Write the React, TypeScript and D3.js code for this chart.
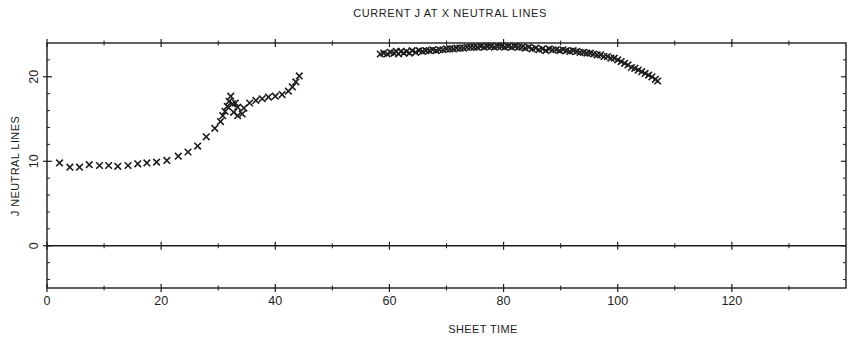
import React from "react";
import * as d3 from "d3";

const xMajorTicks = [0, 20, 40, 60, 80, 100, 120];
const xTickLabels = ["0", "20", "40", "60", "80", "100", "120"];
const xMinorTicks = [10, 30, 50, 70, 90, 110, 130];
const yMajorTicks = [0, 10, 20];
const yTickLabels = ["0", "10", "20"];
const yMinorTicks = [-4, -2, 2, 4, 6, 8, 12, 14, 16, 18, 22];

// Early neutral-line series (sheet time, current J)
const series1X = [2.2, 4.0, 5.7, 7.4, 9.2, 10.8, 12.4, 14.2, 15.9, 17.5, 19.2, 21.0, 23.0, 24.7, 26.4, 27.9, 29.4, 30.4, 30.8, 31.2, 31.6, 31.9, 32.2, 32.5, 33.0, 33.4, 32.7, 33.4, 34.2, 34.5, 35.5, 36.6, 37.7, 38.8, 40.0, 41.2, 42.3, 43.0, 43.6, 44.2];
const series1Y = [9.8, 9.3, 9.3, 9.6, 9.5, 9.5, 9.4, 9.5, 9.7, 9.8, 9.9, 10.1, 10.6, 11.1, 11.8, 12.9, 13.9, 14.7, 15.4, 15.9, 16.5, 17.1, 17.7, 16.8, 16.9, 16.4, 15.8, 15.4, 15.6, 16.3, 16.9, 17.2, 17.4, 17.6, 17.7, 17.9, 18.3, 18.8, 19.4, 20.1];

// Late neutral-line series
const series2X = [58.4, 59.0, 59.6, 60.2, 60.8, 61.2, 61.6, 62.0, 62.5, 63.0, 63.5, 64.0, 64.6, 65.2, 65.8, 66.4, 67.0, 67.6, 68.2, 68.8, 69.4, 70.0, 70.6, 71.2, 71.8, 72.4, 73.0, 73.6, 74.2, 74.8, 75.4, 76.0, 76.6, 77.2, 77.8, 78.4, 79.0, 79.6, 80.2, 80.8, 81.4, 82.0, 82.6, 83.2, 83.8, 84.4, 85.0, 85.6, 86.2, 86.8, 87.4, 88.0, 88.6, 89.2, 89.8, 90.4, 91.0, 91.6, 92.2, 92.8, 93.4, 94.0, 94.6, 95.2, 95.8, 96.4, 97.0, 97.6, 98.2, 98.8, 99.4, 100.0, 100.6, 101.2, 101.8, 102.4, 103.0, 103.6, 104.2, 104.8, 105.4, 106.0, 106.6, 107.0];
const series2Y = [22.7, 22.8, 22.7, 22.9, 22.8, 23.0, 22.7, 23.0, 22.8, 23.0, 22.8, 23.1, 22.9, 23.1, 23.0, 23.1, 23.1, 23.2, 23.1, 23.2, 23.2, 23.3, 23.3, 23.3, 23.4, 23.4, 23.4, 23.5, 23.5, 23.5, 23.5, 23.6, 23.5, 23.6, 23.6, 23.5, 23.6, 23.6, 23.5, 23.6, 23.5, 23.6, 23.5, 23.5, 23.4, 23.5, 23.3, 23.4, 23.2, 23.3, 23.1, 23.3, 23.2, 23.2, 23.1, 23.2, 23.1, 23.0, 23.1, 23.0, 22.9, 22.9, 22.8, 22.8, 22.7, 22.6, 22.6, 22.4, 22.4, 22.2, 22.2, 22.0, 21.8, 21.6, 21.4, 21.1, 21.0, 20.8, 20.6, 20.4, 20.2, 20.0, 19.7, 19.5];

const W = 860;
const H = 340;
const left = 47;
const right = 846;
const top = 43;
const bottom = 288;
const ink = "#1c1c1c";
const font = "'Liberation Sans', Arial, sans-serif";

export default function App() {
  const x = d3.scaleLinear().domain([0, 140]).range([left, right]);
  const y = d3.scaleLinear().domain([-5, 24]).range([bottom, top]);
  const sym = d3.symbol().type(d3.symbolX).size(30)();

  const pts = [
    ...series1X.map((v, i) => [v, series1Y[i]]),
    ...series2X.map((v, i) => [v, series2Y[i]]),
  ];

  const hLines = [y.range()[1], y(0), y.range()[0]];

  return (
    <svg width={W} height={H} style={{ position: "absolute", left: 0, top: 0, background: "#fff" }}>
      <rect x={0} y={0} width={W} height={H} fill="#fff" />
      {/* frame */}
      <rect x={left} y={top} width={right - left} height={bottom - top} fill="none" stroke={ink} strokeWidth={1.4} />
      <line x1={left} x2={right} y1={y(0)} y2={y(0)} stroke={ink} strokeWidth={1.4} />

      {/* x ticks on top, zero line and bottom */}
      {hLines.map((yy, k) => (
        <g key={"h" + k}>
          {xMajorTicks.map((t) => (
            <line key={"M" + t} x1={x(t)} x2={x(t)} y1={yy - 4} y2={yy + 4} stroke={ink} strokeWidth={1.2} />
          ))}
          {xMinorTicks.map((t) => (
            <line key={"m" + t} x1={x(t)} x2={x(t)} y1={yy - 2.5} y2={yy + 2.5} stroke={ink} strokeWidth={1} />
          ))}
        </g>
      ))}

      {/* y ticks left/right */}
      {yMajorTicks.map((t) => (
        <g key={"ym" + t}>
          <line x1={left - 4} x2={left + 5} y1={y(t)} y2={y(t)} stroke={ink} strokeWidth={1.2} />
          <line x1={right - 5} x2={right} y1={y(t)} y2={y(t)} stroke={ink} strokeWidth={1.2} />
        </g>
      ))}
      {yMinorTicks.map((t) => (
        <g key={"yn" + t}>
          <line x1={left} x2={left + 3} y1={y(t)} y2={y(t)} stroke={ink} strokeWidth={1} />
          <line x1={right - 3} x2={right} y1={y(t)} y2={y(t)} stroke={ink} strokeWidth={1} />
        </g>
      ))}

      {/* x tick labels */}
      {xMajorTicks.map((t, i) => (
        <text key={"xl" + t} x={x(t)} y={bottom + 17} textAnchor="middle" fontFamily={font} fontSize={12.5} fill={ink}>
          {xTickLabels[i]}
        </text>
      ))}

      {/* y tick labels (rotated) */}
      {yMajorTicks.map((t, i) => (
        <text key={"yl" + t} transform={`translate(${left - 9},${y(t)}) rotate(-90)`} textAnchor="middle" fontFamily={font} fontSize={12.5} fill={ink}>
          {yTickLabels[i]}
        </text>
      ))}

      {/* markers */}
      {pts.map((p, i) => (
        <path key={"p" + i} d={sym} transform={`translate(${x(p[0])},${y(p[1])})`} fill="none" stroke={ink} strokeWidth={1.6} />
      ))}

      {/* titles */}
      <text x={450} y={17} textAnchor="middle" fontFamily={font} fontSize={11} letterSpacing={0.6} fill={ink}>
        CURRENT J AT X NEUTRAL LINES
      </text>
      <text x={483} y={333} textAnchor="middle" fontFamily={font} fontSize={11} letterSpacing={0.4} fill={ink}>
        SHEET TIME
      </text>
      <text transform={`translate(19,166) rotate(-90)`} textAnchor="middle" fontFamily={font} fontSize={11} letterSpacing={0.4} fill={ink}>
        J NEUTRAL LINES
      </text>
    </svg>
  );
}
